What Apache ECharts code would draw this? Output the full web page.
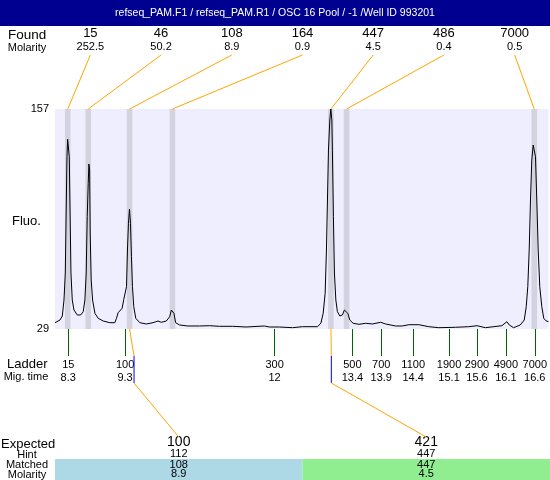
<!DOCTYPE html>
<html><head><meta charset="utf-8">
<script src="https://cdn.jsdelivr.net/npm/echarts@6/dist/echarts.min.js"></script>
<style>html,body{margin:0;padding:0;background:#fff}#c{width:550px;height:480px}</style>
</head><body><div id="c"></div>
<script>
const titleText = 'refseq_PAM.F1 / refseq_PAM.R1 / OSC 16 Pool / -1 /Well ID 993201';
// Found peaks
const foundSizes = [15, 46, 108, 164, 447, 486, 7000];
const foundMolarity = ['252.5', '50.2', '8.9', '0.9', '4.5', '0.4', '0.5'];
const peakTimes = [8.291, 8.655, 9.391, 10.153, 12.973, 13.251, 16.590];
// Ladder
const ladderSizes = [15, 100, 300, 500, 700, 1100, 1900, 2900, 4900, 7000];
const ladderTimes = [8.30, 9.311, 11.971, 13.354, 13.868, 14.436, 15.074, 15.571, 16.085, 16.599];
const ladderMigLabels = ['8.3', '9.3', '12', '13.4', '13.9', '14.4', '15.1', '15.6', '16.1', '16.6'];
// Expected table
const expectedSizes = [100, 421];
const hintSizes = [112, 447];
const matchedSizes = [108, 447];
const matchedMolarity = ['8.9', '4.5'];
const matchedPeakTimes = [9.391, 12.973];
const hintTimes = [9.47, 12.98];
// Axis ranges
const xMin = 8.064, xMax = 16.842;
const yMin = 29, yMax = 157;
// Electropherogram trace
const traceTime = [8.064,8.153,8.194,8.224,8.247,8.265,8.277,8.289,8.307,8.318,8.330,8.348,8.371,8.401,8.460,8.520,8.566,8.596,8.619,8.637,8.655,8.667,8.680,8.690,8.708,8.733,8.774,8.832,8.921,9.040,9.128,9.158,9.187,9.217,9.258,9.288,9.311,9.336,9.353,9.371,9.389,9.407,9.424,9.442,9.465,9.501,9.572,9.690,9.807,9.896,9.956,10.045,10.104,10.134,10.157,10.180,10.210,10.281,10.428,10.636,10.813,10.990,11.226,11.464,11.788,11.877,12.054,12.290,12.467,12.733,12.794,12.835,12.870,12.893,12.911,12.929,12.953,12.971,12.989,12.999,13.017,13.035,13.060,13.088,13.131,13.177,13.212,13.242,13.273,13.308,13.367,13.473,13.592,13.709,13.858,13.946,14.124,14.241,14.360,14.537,14.714,14.892,15.188,15.424,15.571,15.720,16.014,16.103,16.146,16.222,16.341,16.412,16.447,16.475,16.500,16.523,16.546,16.571,16.594,16.612,16.635,16.660,16.688,16.724,16.759,16.795,16.842];
const traceFluo = [32.67,34.24,36.56,45.87,61.58,102.3,129.2,139.4,139.0,129.2,102.3,61.58,45.87,40.05,37.15,37.15,39.07,45.87,61.58,94.34,113.8,125.0,121.5,84.85,57.51,45.87,38.13,35.23,33.65,32.67,32.67,35.23,38.48,37.55,41.04,46.28,45.46,53.61,74.96,90.50,98.82,90.50,71.06,53.61,41.97,35.23,32.67,31.91,32.67,33.65,32.90,33.65,36.16,40.05,41.04,38.13,32.67,31.33,30.75,30.75,30.92,30.57,30.57,30.16,30.75,30.16,30.16,29.76,30.34,30.34,32.32,38.13,49.77,74.96,104.05,133.1,150.6,157,150.6,133.1,94.34,61.58,45.87,39.07,36.56,37.15,40.05,41.04,38.13,34.24,32.32,31.73,32.32,31.91,32.90,31.91,30.75,30.75,31.50,31.50,30.34,29.76,29.99,30.34,30.92,29.76,30.92,33.25,31.33,29.76,31.33,34.24,41.97,53.61,74.96,104.05,127.3,136.05,136.6,129.2,104.05,74.96,53.61,41.97,35.23,33.83,33.25];

const FONT = 'Liberation Sans, Arial, sans-serif';
const ORANGE = '#FFA500';
const tableColors = ['#ADD8E6', '#90EE90'];
const band = 0.05;

const chart = echarts.init(document.getElementById('c'), null, {renderer: 'canvas'});

function nearestLadder(v) {
  let best = 0;
  for (let i = 1; i < ladderTimes.length; i++) {
    if (Math.abs(ladderTimes[i] - v) < Math.abs(ladderTimes[best] - v)) best = i;
  }
  return best;
}

function txt(text, x, y, size, align) {
  return {type: 'text', x: x, y: y, z: 50,
    style: {text: text, fontSize: size, fontFamily: FONT, fill: '#000', align: align || 'center', verticalAlign: 'middle'}};
}

const option = {
  animation: false,
  backgroundColor: '#fff',
  textStyle: {fontFamily: FONT},
  title: {text: titleText, left: 'center', top: 8, padding: 0,
    textStyle: {color: '#fff', fontSize: 10.5, fontWeight: 'normal', fontFamily: FONT}},
  grid: [
    {left: 55, right: 0, top: 109, height: 220, show: true, backgroundColor: '#EEEEFF', borderWidth: 0},
    {left: 55, right: 0, top: 55, height: 1},
    {left: 55, right: 0, top: 459, height: 21}
  ],
  xAxis: [
    {gridIndex: 0, type: 'value', min: xMin, max: xMax,
      axisLine: {show: false}, splitLine: {show: false},
      axisTick: {show: true, customValues: ladderTimes, length: 27, lineStyle: {color: '#006400', width: 1}},
      axisLabel: {customValues: ladderTimes, margin: 29,
        formatter: function (v) { const i = nearestLadder(v); return '{a|' + ladderSizes[i] + '}\n{b|' + ladderMigLabels[i] + '}'; },
        rich: {a: {fontSize: 11, lineHeight: 13, color: '#000', fontFamily: FONT}, b: {fontSize: 11, lineHeight: 13, color: '#000', fontFamily: FONT}}}},
    {gridIndex: 1, type: 'category', position: 'top', data: foundSizes.map(String),
      axisLine: {show: false}, axisTick: {show: false}, splitLine: {show: false},
      axisLabel: {interval: 0, margin: 2,
        formatter: function (v, i) { return '{a|' + v + '}\n{b|' + foundMolarity[i] + '}'; },
        rich: {a: {fontSize: 13, lineHeight: 14, color: '#000', fontFamily: FONT}, b: {fontSize: 11, lineHeight: 13, color: '#000', fontFamily: FONT}}}},
    {gridIndex: 2, type: 'category', position: 'top', data: expectedSizes.map(String),
      axisLine: {show: false}, axisTick: {show: false}, splitLine: {show: false},
      axisLabel: {interval: 0, margin: 0,
        formatter: function (v, i) { return '{a|' + v + '}\n{b|' + hintSizes[i] + '}'; },
        rich: {a: {fontSize: 14, lineHeight: 14, color: '#000', fontFamily: FONT}, b: {fontSize: 11, lineHeight: 10, color: '#000', fontFamily: FONT}}}}
  ],
  yAxis: [
    {gridIndex: 0, type: 'value', min: yMin, max: yMax,
      splitLine: {show: false}, axisLine: {show: false}, axisTick: {show: false},
      axisLabel: {customValues: [yMin, yMax], fontSize: 11, color: '#000', margin: 6, fontFamily: FONT}},
    {gridIndex: 1, type: 'value', show: false},
    {gridIndex: 2, type: 'value', min: 0, max: 1, show: false}
  ],
  series: [
    {type: 'line', xAxisIndex: 0, yAxisIndex: 0,
      data: traceTime.map(function (t, i) { return [t, traceFluo[i]]; }),
      showSymbol: false, symbol: 'none', lineStyle: {color: '#000', width: 1}, z: 5,
      markArea: {silent: true, itemStyle: {color: '#D3D3E0'}, label: {show: false},
        data: peakTimes.map(function (t) { return [{xAxis: t - band}, {xAxis: t + band}]; })}},
    {type: 'bar', xAxisIndex: 2, yAxisIndex: 2, barWidth: '100%', silent: true,
      data: matchedSizes.map(function (m, i) { return {value: 1, itemStyle: {color: tableColors[i]}}; }),
      label: {show: true, position: 'inside',
        formatter: function (p) { return '{a|' + matchedSizes[p.dataIndex] + '}\n{b|' + matchedMolarity[p.dataIndex] + '}'; },
        rich: {a: {fontSize: 11, lineHeight: 9.5, color: '#000', fontFamily: FONT}, b: {fontSize: 11, lineHeight: 9.5, color: '#000', fontFamily: FONT}}}}
  ]
};
chart.setOption(option);

const g = [];
g.push({type: 'rect', shape: {x: 0, y: 0, width: 550, height: 26}, style: {fill: '#000090'}, z: -10});
g.push(txt('Found', 8, 35, 13.5, 'left'));
g.push(txt('Molarity', 27, 48, 11, 'center'));
g.push(txt('Fluo.', 12, 221, 13, 'left'));
g.push(txt('Ladder', 7, 364, 13, 'left'));
g.push(txt('Mig. time', 26, 377, 11, 'center'));
g.push(txt('Expected', 1, 444, 13, 'left'));
g.push(txt('Hint', 27, 455, 11, 'center'));
g.push(txt('Matched', 27, 465, 11, 'center'));
g.push(txt('Molarity', 27, 474.5, 11, 'center'));

peakTimes.forEach(function (t, i) {
  const top = chart.convertToPixel({gridIndex: 0}, [t, yMax]);
  const hx = chart.convertToPixel({xAxisIndex: 1}, i);
  g.push({type: 'line', shape: {x1: hx, y1: 55, x2: top[0], y2: top[1]}, style: {stroke: ORANGE, lineWidth: 1}, z: 40});
});
matchedPeakTimes.forEach(function (t, i) {
  const b = chart.convertToPixel({gridIndex: 0}, [t, yMin]);
  const hx = chart.convertToPixel({xAxisIndex: 0}, hintTimes[i]);
  const ex = chart.convertToPixel({xAxisIndex: 2}, i);
  g.push({type: 'line', shape: {x1: b[0], y1: b[1], x2: hx, y2: 356}, style: {stroke: ORANGE, lineWidth: 1}, z: 40});
  g.push({type: 'line', shape: {x1: hx, y1: 356, x2: hx, y2: 383}, style: {stroke: '#0000FF', lineWidth: 1}, z: 40});
  g.push({type: 'line', shape: {x1: hx, y1: 383, x2: ex, y2: 437}, style: {stroke: ORANGE, lineWidth: 1}, z: 40});
});
chart.setOption({graphic: g});
</script>
</body></html>
